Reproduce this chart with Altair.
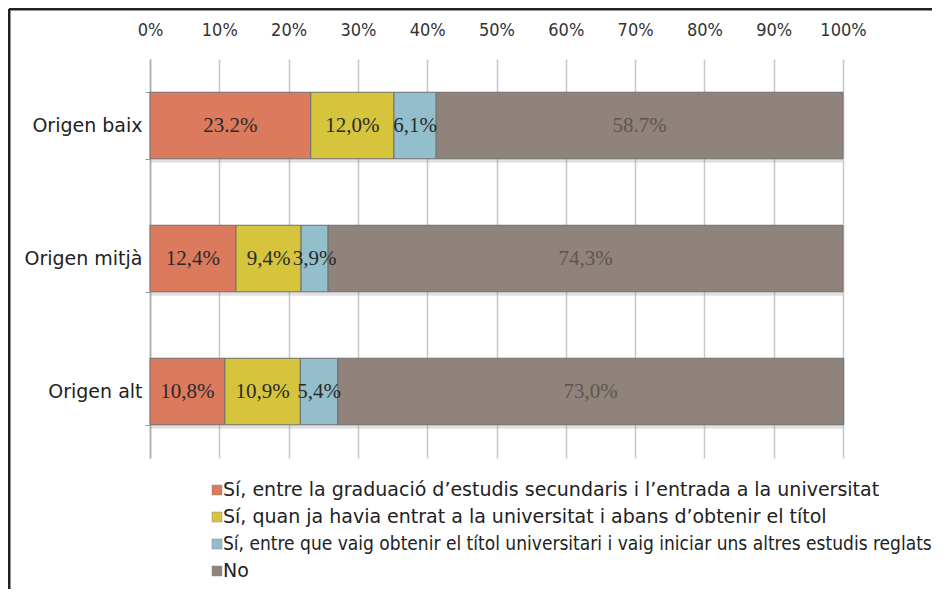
import altair as alt
import pandas as pd

categories = ["Origen baix", "Origen mitjà", "Origen alt"]
series = [
    "Sí, entre la graduació d’estudis secundaris i l’entrada a la universitat",
    "Sí, quan ja havia entrat a la universitat i abans d’obtenir el títol",
    "Sí, entre que vaig obtenir el títol universitari i vaig iniciar uns altres estudis reglats",
    "No",
]
values_baix = [23.2, 12.0, 6.1, 58.7]
values_mitja = [12.4, 9.4, 3.9, 74.3]
values_alt = [10.8, 10.9, 5.4, 73.0]
labels_baix = ["23.2%", "12,0%", "6,1%", "58.7%"]
labels_mitja = ["12,4%", "9,4%", "3,9%", "74,3%"]
labels_alt = ["10,8%", "10,9%", "5,4%", "73,0%"]
colors = ["#dc7a5d", "#d6c43c", "#92bfcb", "#8f837b"]
x_ticks = [0, 10, 20, 30, 40, 50, 60, 70, 80, 90, 100]

rows = []
for cat, vals, labs in zip(categories, [values_baix, values_mitja, values_alt],
                           [labels_baix, labels_mitja, labels_alt]):
    for i, (s, v, l) in enumerate(zip(series, vals, labs)):
        rows.append({"cat": cat, "series": s, "idx": i, "value": v, "label": l})
df = pd.DataFrame(rows)

legend_df = pd.DataFrame({
    "series": series,
    "row": list(range(len(series))),
    "narrow": [False, False, True, False],
})

color_scale = alt.Scale(domain=series, range=colors)

base = alt.Chart(df).transform_stack(
    stack="value", groupby=["cat"], as_=["x0", "x1"],
    sort=[alt.SortField("idx", order="ascending")]
).transform_calculate(mid="(datum.x0 + datum.x1) / 2")

y_enc = alt.Y("cat:N", sort=categories, title=None,
              scale=alt.Scale(paddingInner=0.5, paddingOuter=0.25),
              axis=alt.Axis(tickBand="extent", ticks=True, tickSize=5, tickColor="#999999",
                            domainColor="#aaaaaa", domainWidth=1.5, labelPadding=3,
                            labelFontSize=19, labelFont="DejaVu Sans", labelColor="#222222",
                            grid=False))

x_enc = alt.X("x0:Q", title=None,
              scale=alt.Scale(domain=[0, 100], nice=False),
              axis=alt.Axis(orient="top", values=x_ticks, labelExpr="datum.value + '%'",
                            ticks=False, domain=False, labelPadding=20, labelFlush=False,
                            labelOverlap=False,
                            labelFontSize=18, labelFont="DejaVu Sans Condensed, Liberation Sans Narrow, Liberation Sans",
                            labelColor="#333333", gridColor="#c8c8c8", gridWidth=1.5))

shadow = base.mark_bar(color="#9a9a9a", opacity=0.3, yOffset=4).encode(
    x=x_enc, x2="x1:Q", y=y_enc)

bars = base.mark_bar(stroke="#6f6f6f", strokeWidth=1).encode(
    x=x_enc, x2="x1:Q", y=y_enc,
    color=alt.Color("series:N", scale=color_scale, legend=None),
)

texts = base.mark_text(font="Liberation Serif", fontSize=21, baseline="middle").encode(
    x="mid:Q", y=alt.Y("cat:N", sort=categories),
    text="label:N",
    color=alt.condition("datum.idx == 3", alt.value("#5e5650"), alt.value("#2a2a2a")),
)

main = alt.layer(shadow, bars, texts)

leg_y = alt.Y("row:O", scale=alt.Scale(type="point", range=[431, 512], padding=0), axis=None)
leg_base = alt.Chart(legend_df)
leg_sq = leg_base.mark_square(size=100, opacity=1, stroke="#888888", strokeWidth=0.5).encode(
    x=alt.value(67), y=leg_y,
    color=alt.Color("series:N", scale=color_scale, legend=None),
)
leg_txt = leg_base.transform_filter("!datum.narrow").mark_text(
    align="left", baseline="middle", font="DejaVu Sans", fontSize=19, color="#222222"
).encode(x=alt.value(73), y=leg_y, text="series:N")
leg_txt_n = leg_base.transform_filter("datum.narrow").mark_text(
    align="left", baseline="middle", font="DejaVu Sans Condensed, Liberation Sans Narrow, Liberation Sans",
    fontSize=19, color="#222222"
).encode(x=alt.value(73), y=leg_y, text="series:N")
legend = alt.layer(leg_sq, leg_txt, leg_txt_n)

frame_data = alt.Data(values=[{"k": 1}])
frame_left = alt.Chart(frame_data).mark_rule(color="#222222", strokeWidth=3).encode(
    x=alt.value(-141), y=alt.value(-50), y2=alt.value(530))
frame_top = alt.Chart(frame_data).mark_rule(color="#222222", strokeWidth=3).encode(
    x=alt.value(-141), x2=alt.value(790), y=alt.value(-50))

chart = alt.layer(main, legend, frame_left, frame_top).resolve_scale(
    y="independent"
).properties(
    width=693, height=399,
    autosize=alt.AutoSizeParams(type="none"),
    padding={"left": 142, "top": 51, "right": 89, "bottom": 137},
    background="white",
).configure_view(stroke=None)

chart.save("out.html", embed_options={"renderer": "svg", "actions": False})
